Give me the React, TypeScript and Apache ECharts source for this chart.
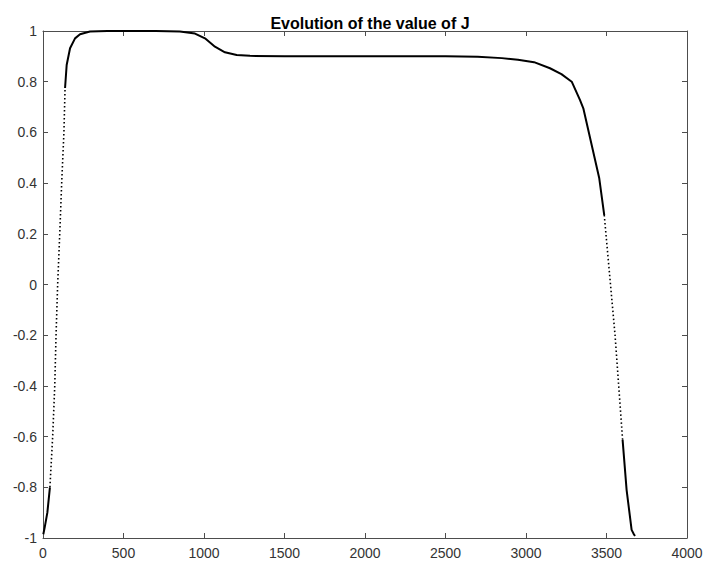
import React, { useEffect, useRef } from "react";
import * as echarts from "echarts";

// Tick values
const xTicks = [0, 500, 1000, 1500, 2000, 2500, 3000, 3500, 4000];
const yTicks = [-1, -0.8, -0.6, -0.4, -0.2, 0, 0.2, 0.4, 0.6, 0.8, 1];

// Curve segments
const riseSolidX = [2, 10, 27, 43];
const riseSolidY = [-0.985, -0.96, -0.9, -0.8];

const riseDottedX = [43, 60, 73, 81, 91, 104, 116, 130, 137];
const riseDottedY = [-0.8, -0.6, -0.4, -0.2, 0, 0.2, 0.4, 0.6, 0.775];

const mainSolidX = [137, 147, 168, 199, 230, 292, 400, 700, 850, 944, 1006, 1068, 1130, 1203, 1286, 1500, 2000, 2500, 2700, 2850, 2950, 3050, 3149, 3220, 3284, 3335, 3356, 3455, 3486];
const mainSolidY = [0.775, 0.866, 0.932, 0.971, 0.987, 0.998, 1, 1, 0.998, 0.99, 0.971, 0.938, 0.916, 0.905, 0.902, 0.9, 0.9, 0.9, 0.898, 0.893, 0.887, 0.877, 0.853, 0.83, 0.8, 0.728, 0.695, 0.419, 0.274];

const fallDottedX = [3486, 3553, 3600];
const fallDottedY = [0.274, -0.199, -0.613];

const fallSolidX = [3600, 3625, 3656, 3670, 3677];
const fallSolidY = [-0.613, -0.811, -0.968, -0.985, -0.992];

const zip = (xs: number[], ys: number[]) => xs.map((x, i) => [x, ys[i]]);

export default function App() {
  const ref = useRef<HTMLDivElement>(null);
  useEffect(() => {
    if (!ref.current) return;
    const chart = echarts.init(ref.current, null, { renderer: "svg" });
    const axisColor = "#4d4d4d";
    const labelStyle = { color: "#333", fontSize: 14, fontFamily: "Liberation Sans, Arial, sans-serif" };
    const solid = (data: number[][]) => ({
      type: "line",
      data,
      showSymbol: false,
      symbol: "none",
      lineStyle: { color: "#000", width: 2 },
      silent: true,
    });
    const dotted = (data: number[][]) => ({
      type: "line",
      data,
      showSymbol: false,
      symbol: "none",
      lineStyle: { color: "#000", width: 1.6, type: [1.5, 2.5] },
      silent: true,
    });
    const common = {
      min: 0,
      max: 4000,
      interval: 500,
      type: "value",
      splitLine: { show: false },
      axisLine: { show: true, onZero: false, lineStyle: { color: axisColor, width: 1 } },
      axisTick: { show: true, inside: true, length: 5, lineStyle: { color: axisColor } },
    };
    const ycommon = {
      min: -1,
      max: 1,
      interval: 0.2,
      type: "value",
      splitLine: { show: false },
      axisLine: { show: true, onZero: false, lineStyle: { color: axisColor, width: 1 } },
      axisTick: { show: true, inside: true, length: 5, lineStyle: { color: axisColor } },
    };
    chart.setOption({
      animation: false,
      backgroundColor: "#fff",
      title: {
        text: "Evolution of the value of J",
        left: 365,
        top: 10,
        textAlign: "center",
        textStyle: { color: "#000", fontSize: 16, fontWeight: "bold", fontFamily: "Liberation Sans, Arial, sans-serif" },
      },
      grid: { left: 43, right: 19, top: 31, bottom: 26 },
      xAxis: [
        {
          ...common,
          position: "bottom",
          axisLabel: {
            ...labelStyle,
            margin: 8,
            formatter: (v: number) => (xTicks.includes(v) ? String(v) : ""),
          },
        },
        { ...common, position: "top", axisLabel: { show: false } },
      ],
      yAxis: [
        {
          ...ycommon,
          position: "left",
          axisLabel: {
            ...labelStyle,
            margin: 6,
            formatter: (v: number) => {
              const r = Math.round(v * 10) / 10;
              return yTicks.includes(r) ? String(r) : "";
            },
          },
        },
        { ...ycommon, position: "right", axisLabel: { show: false } },
      ],
      series: [
        solid(zip(riseSolidX, riseSolidY)),
        dotted(zip(riseDottedX, riseDottedY)),
        solid(zip(mainSolidX, mainSolidY)),
        dotted(zip(fallDottedX, fallDottedY)),
        solid(zip(fallSolidX, fallSolidY)),
      ],
    } as any);
    return () => chart.dispose();
  }, []);
  return (
    <div
      ref={ref}
      style={{ position: "fixed", left: 0, top: 0, width: 706, height: 564, background: "#fff" }}
    />
  );
}
